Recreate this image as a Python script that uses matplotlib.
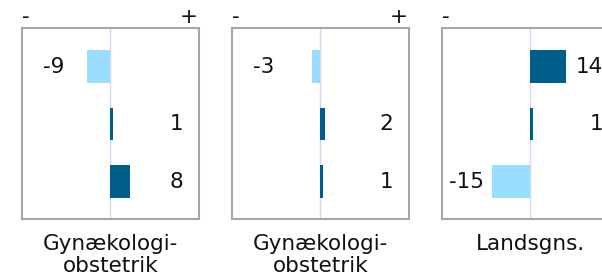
import matplotlib
matplotlib.use('Agg')
import matplotlib.pyplot as plt
import matplotlib.transforms as mtransforms

plt.rcParams['font.family'] = ['DejaVu Sans']

# data
panel_titles = ['Gynækologi-\nobstetrik', 'Gynækologi-\nobstetrik', 'Landsgns.']
panel_values = [
    [-9, 1, 8],
    [-3, 2, 1],
    [14, 1, -15],
]
rows = [0, 1, 2]

DARK = '#005F8A'
LIGHT = '#99DDFF'
FS = 15.5

fig = plt.figure(figsize=(6.02, 2.77), dpi=100)
W, H = 602.0, 277.0

for i, (title, vals) in enumerate(zip(panel_titles, panel_values)):
    left = 22 + i * 210
    ax = fig.add_axes([left / W, 58 / H, 177 / W, 191 / H])
    colors = [DARK if v >= 0 else LIGHT for v in vals]
    ax.barh(rows, vals, height=0.57, color=colors, zorder=3)
    ax.axvline(0, color='#D6D6F2', lw=1, zorder=2)
    ax.set_xlim(-34.5, 34.9)
    ax.set_ylim(2.65, -0.67)
    ax.set_xticks([])
    ax.set_yticks([])
    for s in ax.spines.values():
        s.set_color('#A6A6A6')
        s.set_linewidth(1.5)

    trans = mtransforms.blended_transform_factory(ax.transAxes, ax.transData)
    for r, v in zip(rows, vals):
        if v < 0:
            ax.text(42 / 177, r, str(v), transform=trans, ha='right', va='center',
                    fontsize=FS, color='#111111')
        else:
            ax.text(161 / 177, r, str(v), transform=trans, ha='right', va='center',
                    fontsize=FS, color='#111111')

    ax.text(0.0, 1.058, '-', transform=ax.transAxes, ha='left', va='center',
            fontsize=FS, color='#111111')
    ax.text(0.995, 1.06, '+', transform=ax.transAxes, ha='right', va='center',
            fontsize=FS, color='#111111')
    ax.text(0.5, -0.078, title, transform=ax.transAxes, ha='center', va='top',
            fontsize=FS, color='#111111', linespacing=1.15)

fig.savefig('out.png', dpi=100, facecolor='white')
